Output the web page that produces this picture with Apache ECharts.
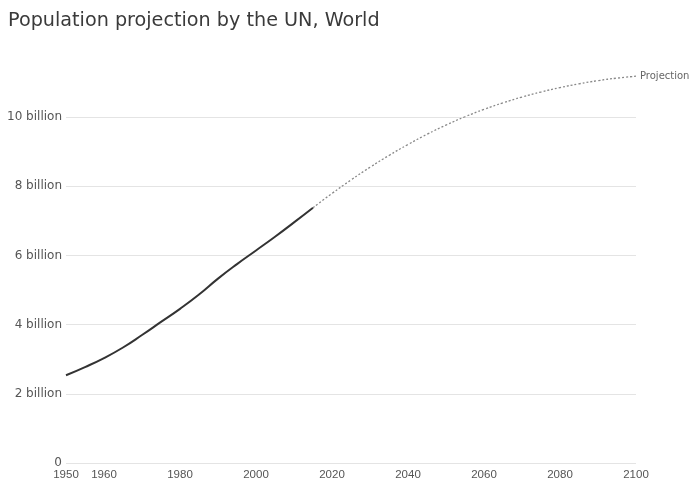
<!DOCTYPE html>
<html>
<head>
<meta charset="utf-8">
<script src="https://cdn.jsdelivr.net/npm/echarts@6/dist/echarts.min.js"></script>
<style>html,body{margin:0;padding:0;background:#fff}#c{width:693px;height:486px}</style>
</head>
<body>
<div id="c"></div>
<script>
var histYears = [1950,1955,1960,1965,1970,1975,1980,1985,1990,1995,2000,2005,2010,2015];
var histValues = [2.536,2.773,3.035,3.340,3.700,4.079,4.458,4.871,5.331,5.751,6.145,6.542,6.958,7.383];
var projYears = [2015,2020,2025,2030,2035,2040,2045,2050,2055,2060,2065,2070,2075,2080,2085,2090,2095,2100];
var projValues = [7.383,7.795,8.184,8.551,8.893,9.210,9.504,9.772,10.012,10.224,10.414,10.581,10.727,10.855,10.964,11.056,11.129,11.184];
var xTickLabels = [1950,1960,1980,2000,2020,2040,2060,2080,2100];
var yTickLabels = ['0','2 billion','4 billion','6 billion','8 billion','10 billion'];

function pairs(xs, ys){ return xs.map(function(x,i){ return [x, ys[i]]; }); }

var chart = echarts.init(document.getElementById('c'), null, {renderer:'canvas'});
chart.setOption({
  animation:false,
  title:{text:'Population projection by the UN, World', left:3, top:7,
    textStyle:{fontFamily:'DejaVu Sans, sans-serif', fontSize:19.2, fontWeight:'normal', color:'#3a3a3a'}},
  grid:{left:66, right:57, top:48, bottom:23, containLabel:false},
  xAxis:{type:'value', min:1950, max:2100, interval:10,
    axisLine:{show:false}, axisTick:{show:false}, splitLine:{show:false},
    axisLabel:{margin:6, color:'#555', fontSize:11.5, fontFamily:'Liberation Sans, Arial, sans-serif',
      formatter:function(v){ return xTickLabels.indexOf(v) >= 0 ? String(v) : ''; }}},
  yAxis:{type:'value', min:0, max:12, interval:2,
    axisLine:{show:false}, axisTick:{show:false},
    splitLine:{show:true, showMaxLine:false, lineStyle:{color:'#e4e4e4', width:1}},
    axisLabel:{margin:4, color:'#555', fontSize:12, fontFamily:'DejaVu Sans, sans-serif',
      formatter:function(v){ var i = v/2; return (Number.isInteger(i) && yTickLabels[i] !== undefined) ? yTickLabels[i] : ''; }}},
  series:[
    {type:'line', data:pairs(histYears, histValues), showSymbol:false, smooth:true,
      lineStyle:{color:'#333', width:2}},
    {type:'line', data:pairs(projYears, projValues), showSymbol:false, smooth:true,
      lineStyle:{color:'#888', width:1.3, type:[2,2]},
      endLabel:{show:true, formatter:'Projection', fontSize:10, color:'#666', distance:4,
        fontFamily:'DejaVu Sans, sans-serif'}}
  ]
});
</script>
</body>
</html>
